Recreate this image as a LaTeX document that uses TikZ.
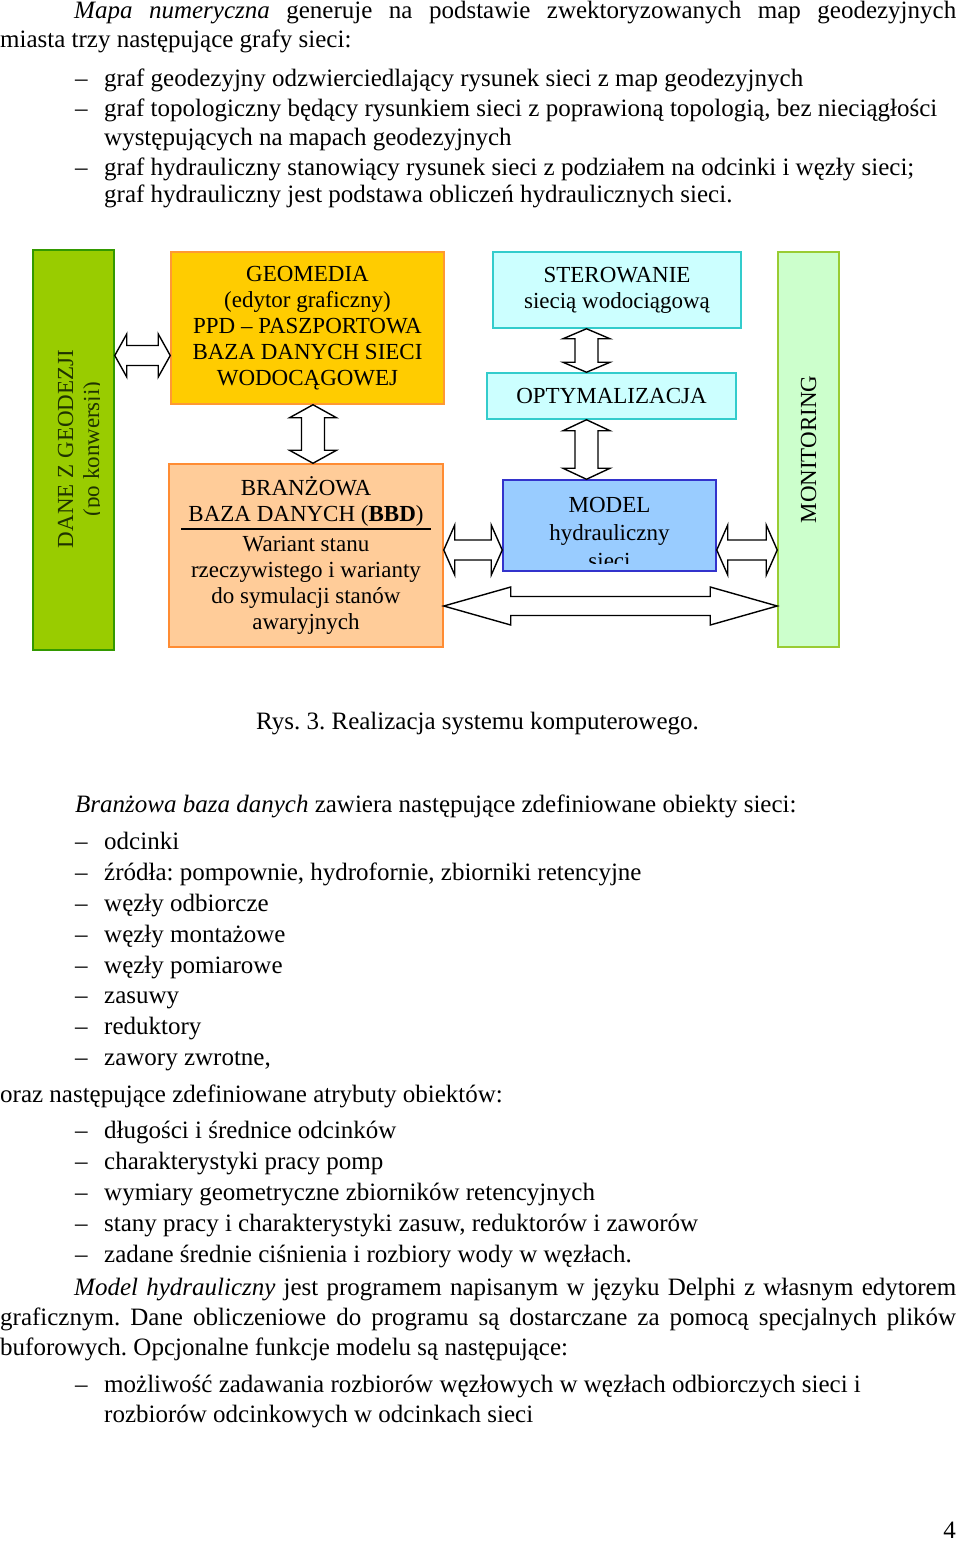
\documentclass[tikz,border=0pt]{standalone}
\usepackage{fontspec}
\setmainfont{Liberation Serif}
\usetikzlibrary{calc}
\frenchspacing

\definecolor{daneFill}{HTML}{99CC00}
\definecolor{daneLine}{HTML}{339900}
\definecolor{daneText}{HTML}{1F3300}
\definecolor{geoFill}{HTML}{FFCC00}
\definecolor{geoLine}{HTML}{FF9933}
\definecolor{bbdFill}{HTML}{FFCC99}
\definecolor{bbdLine}{HTML}{FF8C33}
\definecolor{sterFill}{HTML}{CCFFFF}
\definecolor{sterLine}{HTML}{33CCCC}
\definecolor{modelFill}{HTML}{99CCFF}
\definecolor{modelLine}{HTML}{3333CC}
\definecolor{monFill}{HTML}{CCFFCC}
\definecolor{monLine}{HTML}{99CC33}

\tikzset{
  box/.style={draw, line width=1.5pt, inner sep=0pt, align=center,
    font=\fontsize{23}{26}\selectfont},
  txt/.style={anchor=base west, inner sep=0pt, font=\fontsize{25}{30}\selectfont},
  blockarr/.style={draw=black, fill=white, line width=1.4pt, line join=miter}
}

% double block arrows: ends, half shaft, half head, head length
\newcommand\harrow[5]{%
  \draw[blockarr] let \p1=#1, \p2=#2 in
    (\x1,\y1) -- (\x1+#5pt,\y1+#4pt) -- (\x1+#5pt,\y1+#3pt)
    -- (\x2-#5pt,\y1+#3pt) -- (\x2-#5pt,\y1+#4pt) -- (\x2,\y1)
    -- (\x2-#5pt,\y1-#4pt) -- (\x2-#5pt,\y1-#3pt)
    -- (\x1+#5pt,\y1-#3pt) -- (\x1+#5pt,\y1-#4pt) -- cycle;}
\newcommand\varrow[5]{%
  \draw[blockarr] let \p1=#1, \p2=#2 in
    (\x1,\y1) -- (\x1+#4pt,\y1-#5pt) -- (\x1+#3pt,\y1-#5pt)
    -- (\x1+#3pt,\y2+#5pt) -- (\x1+#4pt,\y2+#5pt) -- (\x1,\y2)
    -- (\x1-#4pt,\y2+#5pt) -- (\x1-#3pt,\y2+#5pt)
    -- (\x1-#3pt,\y1-#5pt) -- (\x1-#4pt,\y1-#5pt) -- cycle;}
\newcommand\dashitem{\makebox[29pt][l]{–}}

\begin{document}
\begin{tikzpicture}[x=1pt,y=-1pt]
  \useasboundingbox (0,0) rectangle (960,1543);

  % text above the figure
  \node[txt] (p1a) at (74,18) {\makebox[882pt][s]{\textit{Mapa numeryczna} generuje na podstawie zwektoryzowanych map geodezyjnych}};
  \node[txt] (p1b) at (0,47) {miasta trzy następujące grafy sieci:};
  \node[txt] (g1) at (75,86) {\dashitem graf geodezyjny odzwierciedlający rysunek sieci z map geodezyjnych};
  \node[txt] (g2) at (75,116) {\dashitem graf topologiczny będący rysunkiem sieci z poprawioną topologią, bez nieciągłości};
  \node[txt] (g2b) at (104,145) {występujących na mapach geodezyjnych};
  \node[txt] (g3) at (75,175) {\dashitem graf hydrauliczny stanowiący rysunek sieci z podziałem na odcinki i węzły sieci;};
  \node[txt] (g3b) at (104,202) {graf hydrauliczny jest podstawa obliczeń hydraulicznych sieci.};

  % boxes
  \node[box, fill=daneFill, draw=daneLine, minimum width=81pt, minimum height=400pt,
    path picture={
      \clip (path picture bounding box.north west) rectangle ($(path picture bounding box.south east)+(-15,0)$);
      \node[rotate=90, align=center, inner sep=0pt, text=daneText, font=\fontsize{23}{26}\selectfont]
        at ($(path picture bounding box.center)+(7.5,-1)$) {DANE Z GEODEZJI\\(po konwersji)};
    }] (dane) at (73.5,450) {};
  \node[box, fill=geoFill, draw=geoLine, minimum width=273pt, minimum height=152pt] (geo) at (307.5,328)
    {GEOMEDIA\\(edytor graficzny)\\PPD – PASZPORTOWA\\BAZA DANYCH SIECI\\WODOCĄGOWEJ};
  \node[box, fill=bbdFill, draw=bbdLine, minimum width=274pt, minimum height=183pt] (bbd) at (306,555.5)
    {BRANŻOWA\\BAZA DANYCH (\textbf{BBD})\\[4pt]Wariant stanu\\rzeczywistego i warianty\\do symulacji stanów\\awaryjnych};
  \draw[line width=1.2pt] ($(bbd.west |- 0,529)+(13,0)$) -- ($(bbd.east |- 0,529)+(-13,0)$);
  \node[box, fill=sterFill, draw=sterLine, minimum width=248pt, minimum height=76pt] (ster) at (617,290)
    {STEROWANIE\\siecią wodociągową};
  \node[box, fill=sterFill, draw=sterLine, minimum width=249pt, minimum height=46pt] (opt) at (611.5,396)
    {OPTYMALIZACJA};
  \node[box, fill=modelFill, draw=modelLine, minimum width=213pt, minimum height=91pt,
    path picture={
      \clip (path picture bounding box.north west) rectangle ($(path picture bounding box.south east)+(0,-8)$);
      \node[align=center, inner sep=0pt, font=\fontsize{23}{28}\selectfont]
        at ($(path picture bounding box.center)+(0,7)$) {MODEL\\hydrauliczny\\sieci};
    }] (model) at (609.5,525.5) {};
  \node[box, fill=monFill, draw=monLine, minimum width=61pt, minimum height=395pt] (mon) at (808.5,449.5)
    {\rotatebox{90}{MONITORING}};

  % connectors
  \harrow{(dane.east |- 0,355.5)}{(geo.west |- 0,355.5)}{10}{21.5}{12}
  \varrow{(geo.south -| 313,0)}{(bbd.north -| 313,0)}{11.5}{23.5}{13}
  \varrow{(ster.south -| 586.5,0)}{(opt.north -| 586.5,0)}{11.5}{23.5}{10}
  \varrow{(opt.south -| 586.5,0)}{(model.north -| 586.5,0)}{11.5}{23.5}{11}
  \harrow{(bbd.east |- 0,550)}{(model.west |- 0,550)}{10}{25}{11}
  \harrow{(model.east |- 0,550)}{(mon.west |- 0,550)}{10}{25}{11}
  \harrow{(bbd.east |- 0,606)}{(mon.west |- 0,606)}{9.5}{19}{67}

  % caption and text below
  \node[txt] (cap) at (256,729) {Rys. 3. Realizacja systemu komputerowego.};
  \node[txt] (bbdtxt) at (75,812) {\textit{Branżowa baza danych} zawiera następujące zdefiniowane obiekty sieci:};
  \foreach \y/\t [count=\i] in {849/odcinki, 880/{źródła: pompownie, hydrofornie, zbiorniki retencyjne},
      911/węzły odbiorcze, 942/węzły montażowe, 973/węzły pomiarowe, 1003/zasuwy,
      1034/reduktory, 1065/{zawory zwrotne,}}
    \node[txt] (obj\i) at (75,\y) {\dashitem\t};
  \node[txt] (oraz) at (0,1102) {oraz następujące zdefiniowane atrybuty obiektów:};
  \foreach \y/\t [count=\i] in {1138/długości i średnice odcinków, 1169/charakterystyki pracy pomp,
      1200/wymiary geometryczne zbiorników retencyjnych,
      1231/{stany pracy i charakterystyki zasuw, reduktorów i zaworów},
      1262/zadane średnie ciśnienia i rozbiory wody w węzłach.}
    \node[txt] (atr\i) at (75,\y) {\dashitem\t};
  \node[txt] (p3a) at (74,1295) {\makebox[882pt][s]{\textit{Model hydrauliczny} jest programem napisanym w języku Delphi z własnym edytorem}};
  \node[txt] (p3b) at (0,1325) {\makebox[956pt][s]{graficznym. Dane obliczeniowe do programu są dostarczane za pomocą specjalnych plików}};
  \node[txt] (p3c) at (0,1355) {buforowych. Opcjonalne funkcje modelu są następujące:};
  \node[txt] (f1) at (75,1392) {\dashitem możliwość zadawania rozbiorów węzłowych w węzłach odbiorczych sieci i};
  \node[txt] (f1b) at (104,1422) {rozbiorów odcinkowych w odcinkach sieci};
  \node[txt, anchor=base east] (pnum) at (956,1538) {4};
\end{tikzpicture}
\end{document}
